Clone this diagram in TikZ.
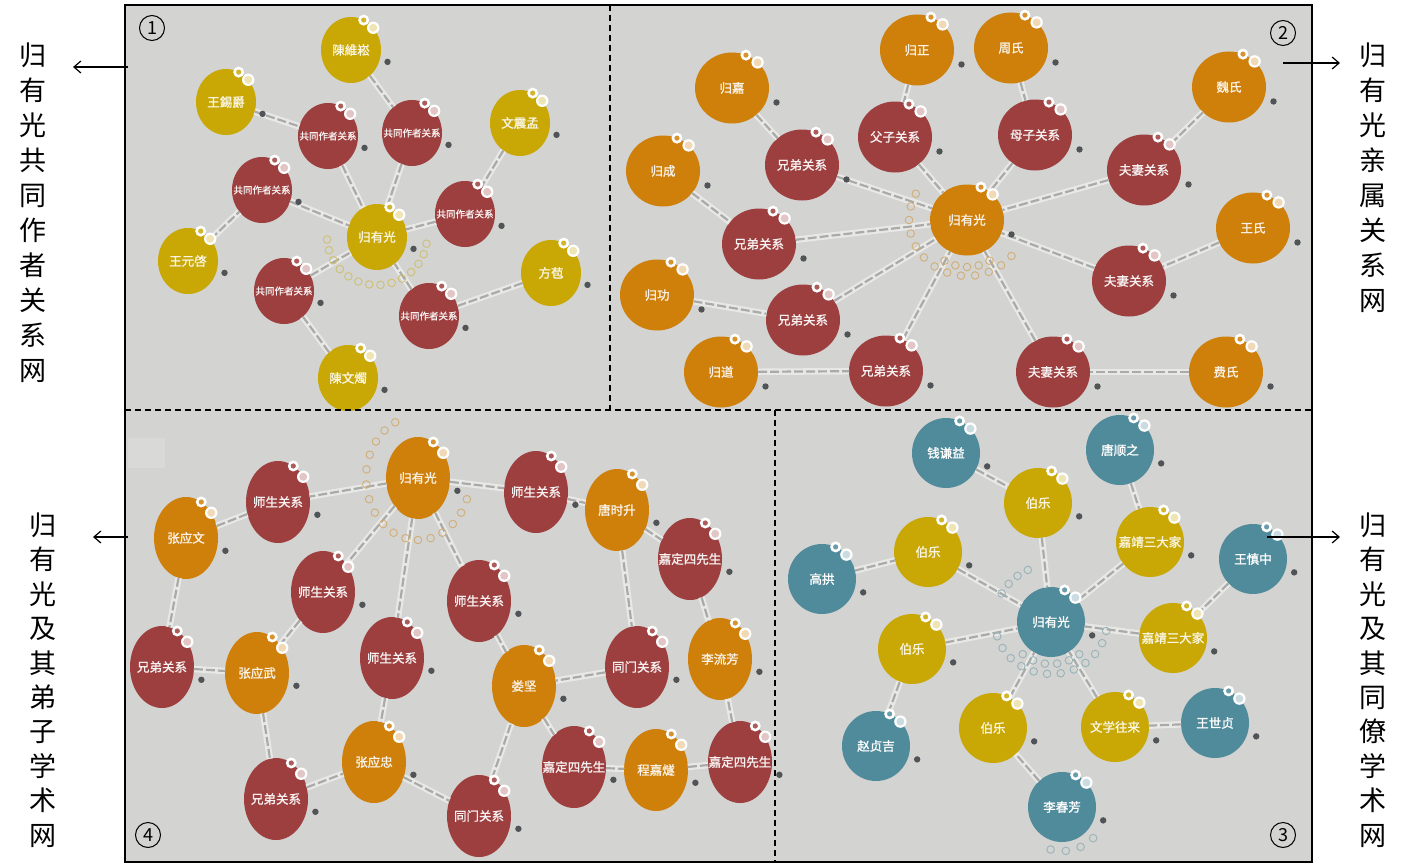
\documentclass[tikz,border=0pt]{standalone}
\usepackage{fontspec}
\newfontfamily\cjk{Noto Sans CJK SC}
\newfontfamily\cjkb[FakeBold=1.3]{Noto Sans CJK SC}
\usetikzlibrary{arrows.meta,shapes.geometric,calc}

\definecolor{bggray}{RGB}{211,211,209}
\definecolor{yel}{RGB}{201,168,6}
\definecolor{rel}{RGB}{158,63,63}
\definecolor{org}{RGB}{207,128,10}
\definecolor{blu}{RGB}{80,139,156}
\definecolor{edgelight}{RGB}{232,232,230}
\definecolor{edgedark}{RGB}{170,170,168}
\definecolor{dotgray}{RGB}{80,84,86}

\newcommand{\tx}[1]{\makebox[0pt]{#1}}
% two rings at the top right and a dark dot at the lower right of a node
\newcommand{\deco}[2]{%
  \fill[white] (#1.67) circle (5.5);
  \fill[#2!85!white] (#1.67) circle (2.6);
  \fill[white] (#1.45) circle (6.2);
  \fill[#2!30!white] (#1.45) circle (4);
  \fill[dotgray] ($(#1.center)!1.27!(#1.-18)$) circle (3.2);
}

\begin{document}
\begin{tikzpicture}[x=1pt,y=-1pt,>={Straight Barb[length=7pt,width=12pt]},
    gnode/.style={ellipse,inner sep=0pt,outer sep=0pt,font=\cjkb\fontsize{12.5}{14}\selectfont},
    q1/.style={gnode,minimum width=60pt,minimum height=66pt},
    q2/.style={gnode,minimum width=74pt,minimum height=71pt},
    q3/.style={gnode,minimum width=68pt,minimum height=70pt},
    q4/.style={gnode,minimum width=64pt,minimum height=82pt},
    smalltext/.style={font=\cjkb\fontsize{9.5}{11}\selectfont},
    yn/.style={fill=yel,text=yel!12!white},
    rn/.style={fill=rel,text=rel!8!white},
    on/.style={fill=org,text=org!10!white},
    bn/.style={fill=blu,text=white},
    every edge/.style={draw=edgedark,line width=2.2pt,dash pattern=on 9pt off 3pt,
      preaction={draw=edgelight,line width=6.5pt,solid}},
    halo/.style={draw=#1!45!bggray,line width=0.9pt},
    divider/.style={line width=1.4pt,dash pattern=on 6pt off 4pt},
    side/.style={align=center,inner sep=0pt,font=\cjk\fontsize{27}{35}\selectfont},
    numbox/.style={circle,draw,line width=1pt,minimum size=25pt,inner sep=0pt,
      font=\cjk\fontsize{18}{18}\selectfont}]

  \useasboundingbox (0,0) rectangle (1417,867);
  \fill[bggray] (125,5) rectangle (1312,862);
  \fill[white,opacity=0.15] (128,438) rectangle (165,468);

  % co-author network
  \node[q1,yn] (c1) at (377,237) {\tx{归有光}};
  \node[q1,yn] (a1) at (351,50) {\tx{陳維崧}};
  \node[q1,yn] (a2) at (226,102) {\tx{王錫爵}};
  \node[q1,yn] (a3) at (520,123) {\tx{文震孟}};
  \node[q1,yn] (a4) at (188,261) {\tx{王元啓}};
  \node[q1,yn] (a5) at (551,273) {\tx{方苞}};
  \node[q1,yn] (a6) at (348,378) {\tx{陳文燭}};
  \node[q1,rn,smalltext] (r11) at (328,136) {\tx{共同作者关系}};
  \node[q1,rn,smalltext] (r12) at (412,133) {\tx{共同作者关系}};
  \node[q1,rn,smalltext] (r13) at (262,190) {\tx{共同作者关系}};
  \node[q1,rn,smalltext] (r14) at (465,214) {\tx{共同作者关系}};
  \node[q1,rn,smalltext] (r15) at (284,291) {\tx{共同作者关系}};
  \node[q1,rn,smalltext] (r16) at (429,316) {\tx{共同作者关系}};

  % kinship network
  \node[q2,on] (c2) at (967,220) {\tx{归有光}};
  \node[q2,on] (b1) at (917,50) {\tx{归正}};
  \node[q2,on] (b2) at (1011,48) {\tx{周氏}};
  \node[q2,on] (b3) at (732,88) {\tx{归嘉}};
  \node[q2,on] (b4) at (663,171) {\tx{归成}};
  \node[q2,on] (b5) at (657,295) {\tx{归功}};
  \node[q2,on] (b6) at (721,372) {\tx{归道}};
  \node[q2,on] (b7) at (1229,87) {\tx{魏氏}};
  \node[q2,on] (b8) at (1253,228) {\tx{王氏}};
  \node[q2,on] (b9) at (1226,372) {\tx{费氏}};
  \node[q2,rn] (r21) at (895,137) {\tx{父子关系}};
  \node[q2,rn] (r22) at (1035,135) {\tx{母子关系}};
  \node[q2,rn] (r23) at (802,165) {\tx{兄弟关系}};
  \node[q2,rn] (r24) at (759,244) {\tx{兄弟关系}};
  \node[q2,rn] (r25) at (803,320) {\tx{兄弟关系}};
  \node[q2,rn] (r26) at (886,371) {\tx{兄弟关系}};
  \node[q2,rn] (r27) at (1144,170) {\tx{夫妻关系}};
  \node[q2,rn] (r28) at (1129,281) {\tx{夫妻关系}};
  \node[q2,rn] (r29) at (1053,372) {\tx{夫妻关系}};

  % colleagues network
  \node[q3,bn] (c3) at (1051,622) {\tx{归有光}};
  \node[q3,bn] (g1) at (946,453) {\tx{钱谦益}};
  \node[q3,bn] (g2) at (1120,450) {\tx{唐顺之}};
  \node[q3,bn] (g3) at (822,579) {\tx{高拱}};
  \node[q3,bn] (g4) at (1253,559) {\tx{王慎中}};
  \node[q3,bn] (g5) at (876,746) {\tx{赵贞吉}};
  \node[q3,bn] (g6) at (1215,723) {\tx{王世贞}};
  \node[q3,bn] (g7) at (1062,807) {\tx{李春芳}};
  \node[q3,yn] (r31) at (1038,503) {\tx{伯乐}};
  \node[q3,yn] (r32) at (928,552) {\tx{伯乐}};
  \node[q3,yn] (r33) at (1150,542) {\tx{嘉靖三大家}};
  \node[q3,yn] (r34) at (1173,638) {\tx{嘉靖三大家}};
  \node[q3,yn] (r35) at (912,649) {\tx{伯乐}};
  \node[q3,yn] (r36) at (993,728) {\tx{伯乐}};
  \node[q3,yn] (r37) at (1115,727) {\tx{文学往来}};

  % disciples network
  \node[q4,on] (c4) at (418,478) {\tx{归有光}};
  \node[q4,on] (d1) at (186,538) {\tx{张应文}};
  \node[q4,on] (d2) at (257,673) {\tx{张应武}};
  \node[q4,on] (d3) at (374,762) {\tx{张应忠}};
  \node[q4,on] (d4) at (617,510) {\tx{唐时升}};
  \node[q4,on] (d5) at (524,686) {\tx{娄坚}};
  \node[q4,on] (d6) at (720,659) {\tx{李流芳}};
  \node[q4,on] (d7) at (656,770) {\tx{程嘉燧}};
  \node[q4,rn] (r41) at (278,502) {\tx{师生关系}};
  \node[q4,rn] (r42) at (323,592) {\tx{师生关系}};
  \node[q4,rn] (r43) at (392,658) {\tx{师生关系}};
  \node[q4,rn] (r44) at (536,492) {\tx{师生关系}};
  \node[q4,rn] (r45) at (479,601) {\tx{师生关系}};
  \node[q4,rn] (r46) at (162,667) {\tx{兄弟关系}};
  \node[q4,rn] (r47) at (276,799) {\tx{兄弟关系}};
  \node[q4,rn] (r48) at (690,559) {\tx{嘉定四先生}};
  \node[q4,rn] (r49) at (637,667) {\tx{同门关系}};
  \node[q4,rn] (r50) at (574,767) {\tx{嘉定四先生}};
  \node[q4,rn] (r51) at (740,762) {\tx{嘉定四先生}};
  \node[q4,rn] (r52) at (479,816) {\tx{同门关系}};

  \path
  (a2) edge (r11) (r11) edge (c1)
  (a1) edge (r12) (r12) edge (c1)
  (a4) edge (r13) (r13) edge (c1)
  (a3) edge (r14) (r14) edge (c1)
  (a6) edge (r15) (r15) edge (c1)
  (a5) edge (r16) (r16) edge (c1);

  \path
  (b1) edge (r21) (r21) edge (c2)
  (b2) edge (r22) (r22) edge (c2)
  (b3) edge (r23) (r23) edge (c2)
  (b4) edge (r24) (r24) edge (c2)
  (b5) edge (r25) (r25) edge (c2)
  (b6) edge (r26) (r26) edge (c2)
  (b7) edge (r27) (r27) edge (c2)
  (b8) edge (r28) (r28) edge (c2)
  (b9) edge (r29) (r29) edge (c2);

  \path
  (g1) edge (r31) (r31) edge (c3)
  (g3) edge (r32) (r32) edge (c3)
  (g2) edge (r33) (r33) edge (c3)
  (g4) edge (r34) (r34) edge (c3)
  (g5) edge (r35) (r35) edge (c3)
  (g7) edge (r36) (r36) edge (c3)
  (g6) edge (r37) (r37) edge (c3);

  \path
  (c4) edge (r41) (r41) edge (d1)
  (c4) edge (r42) (r42) edge (d2)
  (c4) edge (r43) (r43) edge (d3)
  (c4) edge (r44) (r44) edge (d4)
  (c4) edge (r45) (r45) edge (d5)
  (d1) edge (r46) (r46) edge (d2)
  (d2) edge (r47) (r47) edge (d3)
  (d4) edge (r48) (r48) edge (d6)
  (d4) edge (r49) (r49) edge (d5)
  (d5) edge (r50) (r50) edge (d7)
  (d7) edge (r51) (r51) edge (d6)
  (d3) edge (r52) (r52) edge (d5);

  % halos round the centres
  \foreach \a in {8,21,...,182}
    \draw[halo=yel] ($(c1)+({50*cos(\a)},{48*sin(\a)})$) circle (3.8);
  \foreach \a in {40,54,...,208}
    \draw[halo=org] ($(c2)+({58*cos(\a)},{56*sin(\a)})$) circle (3.8);
  \foreach \a in {60,75,...,120}
    \draw[halo=org] ($(c2)+({45*cos(\a)},{47*sin(\a)})$) circle (3.8);
  \foreach \a in {10,24,...,170}
    \draw[halo=blu] ($(c3)+({56*cos(\a)},{52*sin(\a)})$) circle (3.8);
  \foreach \a in {50,66,...,130}
    \draw[halo=blu] ($(c3)+({44*cos(\a)},{42*sin(\a)})$) circle (3.8);
  \foreach \a in {210,222,...,246}
    \draw[halo=blu] ($(c3)+({57*cos(\a)},{57*sin(\a)})$) circle (3.8);
  \foreach \a in {45,65,...,105}
    \draw[halo=blu] ($(g7)+({44*cos(\a)},{44*sin(\a)})$) circle (3.8);
  \foreach \a in {20,34,...,250}
    \draw[halo=org] ($(c4)+({52*cos(\a)},{62*sin(\a)})$) circle (3.8);

  \foreach \n in {c1,a1,a2,a3,a4,a5,a6,r31,r32,r33,r34,r35,r36,r37}
    {\deco{\n}{yel}}
  \foreach \n in {r11,r12,r13,r14,r15,r16,r21,r22,r23,r24,r25,r26,r27,r28,r29,
      r41,r42,r43,r44,r45,r46,r47,r48,r49,r50,r51,r52}
    {\deco{\n}{rel}}
  \foreach \n in {c2,b1,b2,b3,b4,b5,b6,b7,b8,b9,c4,d1,d2,d3,d4,d5,d6,d7}
    {\deco{\n}{org}}
  \foreach \n in {c3,g1,g2,g3,g4,g5,g6,g7}
    {\deco{\n}{blu}}

  % frame and dividers
  \draw[divider] (610,5) -- (610,410);
  \draw[divider] (125,410) -- (1312,410);
  \draw[divider] (775,410) -- (775,862);
  \draw[line width=2pt] (125,5) rectangle (1312,862);

  \node[numbox] (n1) at (152,28) {1};
  \node[numbox] (n2) at (1283,33) {2};
  \node[numbox] (n3) at (1283,835) {3};
  \node[numbox] (n4) at (148,835) {4};

  % titles at the sides
  \node[side] (t1) at (33,213) {归\\有\\光\\共\\同\\作\\者\\关\\系\\网};
  \node[side] (t2) at (1373,178) {归\\有\\光\\亲\\属\\关\\系\\网};
  \node[side,font=\cjk\fontsize{27}{34.4}\selectfont] (t3) at (43,680) {归\\有\\光\\及\\其\\弟\\子\\学\\术\\网};
  \node[side,font=\cjk\fontsize{27}{34.4}\selectfont] (t4) at (1373,680) {归\\有\\光\\及\\其\\同\\僚\\学\\术\\网};

  \coordinate (s1) at (128,67);   \coordinate (e1) at (73,67);
  \coordinate (s2) at (1283,63);  \coordinate (e2) at (1340,63);
  \coordinate (s3) at (1267,537); \coordinate (e3) at (1340,537);
  \coordinate (s4) at (128,537);  \coordinate (e4) at (93,537);
  \draw[->,line width=1.2pt] (s1) -- (e1);
  \draw[->,line width=1.2pt] (s2) -- (e2);
  \draw[->,line width=1.2pt] (s3) -- (e3);
  \draw[->,line width=1.2pt] (s4) -- (e4);
\end{tikzpicture}
\end{document}
